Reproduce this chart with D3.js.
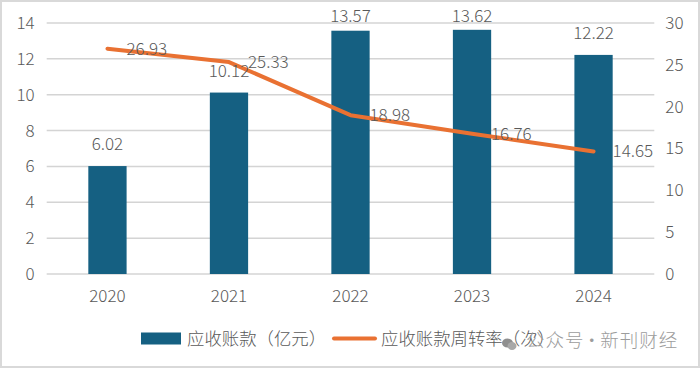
<!DOCTYPE html>
<html>

<head>
    <title>应收账款</title>
    <style>
        * {
            margin: 0;
            padding: 0;
        }

        body {
            background-color: #fff;
        }

        svg {
            display: block;
        }

        text {
            font-family: "Noto Sans CJK SC", sans-serif;
            font-weight: 300;
            fill: #595959;
        }
    </style>
    <script src="https://cdn.jsdelivr.net/npm/d3@7/dist/d3.min.js" type="text/javascript"></script>
</head>

<body>
    <div id="root"></div>
    <script>
        var years = ["2020", "2021", "2022", "2023", "2024"];
        var receivables = [6.02, 10.12, 13.57, 13.62, 12.22];
        var turnover = [26.93, 25.33, 18.98, 16.76, 14.65];
        var leftTicks = [0, 2, 4, 6, 8, 10, 12, 14];
        var rightTicks = [0, 5, 10, 15, 20, 25, 30];
        var barName = "应收账款（亿元）";
        var lineName = "应收账款周转率（次）";
        var watermark = "公众号 · 新刊财经";

        var width = 700;
        var height = 368;
        var left = 46.7, right = 654.3, top_ = 23, bottom = 274;
        var numberFont = "17px";

        var svg = d3.select("#root")
            .append("svg")
            .attr("width", width)
            .attr("height", height);

        // 外框
        svg.append("rect")
            .attr("x", 1).attr("y", 1)
            .attr("width", width - 2).attr("height", height - 2)
            .attr("fill", "#fff")
            .attr("stroke", "#d9d9d9")
            .attr("stroke-width", 2);

        var x = d3.scaleBand().domain(years).range([left, right]);
        var yLeft = d3.scaleLinear().domain([0, 14]).range([bottom, top_]);
        var yRight = d3.scaleLinear().domain([0, 30]).range([bottom, top_]);

        // 网格线
        svg.append("g")
            .selectAll("line")
            .data(leftTicks)
            .enter()
            .append("line")
            .attr("x1", left)
            .attr("x2", right)
            .attr("y1", function(d){ return yLeft(d); })
            .attr("y2", function(d){ return yLeft(d); })
            .attr("stroke", "#d4d4d4")
            .attr("stroke-width", 1.5);

        // 坐标轴
        var axisLeft = d3.axisLeft(yLeft).tickValues(leftTicks).tickSize(0).tickPadding(12);
        var axisRight = d3.axisRight(yRight).tickValues(rightTicks).tickSize(0).tickPadding(11);
        var axisBottom = d3.axisBottom(x).tickSize(0).tickPadding(16);

        var gl = svg.append("g").attr("transform", "translate(" + left + ",0)").call(axisLeft);
        var gr = svg.append("g").attr("transform", "translate(" + right + ",0)").call(axisRight);
        var gb = svg.append("g").attr("transform", "translate(0," + bottom + ")").call(axisBottom);
        [gl, gr, gb].forEach(function(g){
            g.select(".domain").remove();
            g.selectAll("text")
                .style("font-family", "'Noto Sans CJK SC', sans-serif")
                .style("font-weight", 300)
                .style("font-size", numberFont);
        });

        // 柱
        var barWidth = x.bandwidth() * 0.315;
        svg.append("g")
            .selectAll("rect")
            .data(receivables)
            .enter()
            .append("rect")
            .attr("x", function(d, i){ return x(years[i]) + x.bandwidth() / 2 - barWidth / 2; })
            .attr("y", function(d){ return yLeft(d); })
            .attr("width", barWidth)
            .attr("height", function(d){ return bottom - yLeft(d); })
            .attr("fill", "#156082");

        // 折线
        var line = d3.line()
            .x(function(d, i){ return x(years[i]) + x.bandwidth() / 2; })
            .y(function(d){ return yRight(d); });

        svg.append("path")
            .datum(turnover)
            .attr("d", line)
            .attr("fill", "none")
            .attr("stroke", "#e97132")
            .attr("stroke-width", 4)
            .attr("stroke-linecap", "round")
            .attr("stroke-linejoin", "round");

        // 数据标签 顶部的标签不能出画面
        svg.append("g")
            .selectAll("text")
            .data(receivables)
            .enter()
            .append("text")
            .attr("x", function(d, i){ return x(years[i]) + x.bandwidth() / 2; })
            .attr("y", function(d){ return Math.max(yLeft(d) - 16, 22); })
            .attr("text-anchor", "middle")
            .style("font-size", numberFont)
            .text(function(d){ return d.toFixed(2); });

        svg.append("g")
            .selectAll("text")
            .data(turnover)
            .enter()
            .append("text")
            .attr("x", function(d, i){ return x(years[i]) + x.bandwidth() / 2 + 19; })
            .attr("y", function(d){ return yRight(d) + 6; })
            .style("font-size", numberFont)
            .text(function(d){ return d.toFixed(2); });

        // 图例
        var legendY = 338.5;
        svg.append("rect")
            .attr("x", 141).attr("y", legendY - 6)
            .attr("width", 40).attr("height", 12)
            .attr("fill", "#156082");
        svg.append("text")
            .attr("x", 187).attr("y", legendY + 6)
            .style("font-size", "17.4px")
            .text(barName);
        svg.append("line")
            .attr("x1", 334).attr("x2", 375)
            .attr("y1", legendY).attr("y2", legendY)
            .attr("stroke", "#e97132")
            .attr("stroke-width", 4)
            .attr("stroke-linecap", "round");
        svg.append("text")
            .attr("x", 381).attr("y", legendY + 6)
            .style("font-size", "17.4px")
            .text(lineName);

        // 水印
        var mark = svg.append("g");
        mark.append("ellipse")
            .attr("cx", 507.5).attr("cy", 343).attr("rx", 5.5).attr("ry", 4.5)
            .attr("fill", "#8f8f8f");
        mark.append("ellipse")
            .attr("cx", 512).attr("cy", 346).attr("rx", 4.5).attr("ry", 4)
            .attr("fill", "#a8a8a8");
        mark.append("text")
            .attr("x", 526).attr("y", 347)
            .style("font-size", "18.5px")
            .style("letter-spacing", "1px")
            .style("word-spacing", "-7px")
            .style("fill", "#9c9c9c")
            .text(watermark);
    </script>
</body>

</html>
